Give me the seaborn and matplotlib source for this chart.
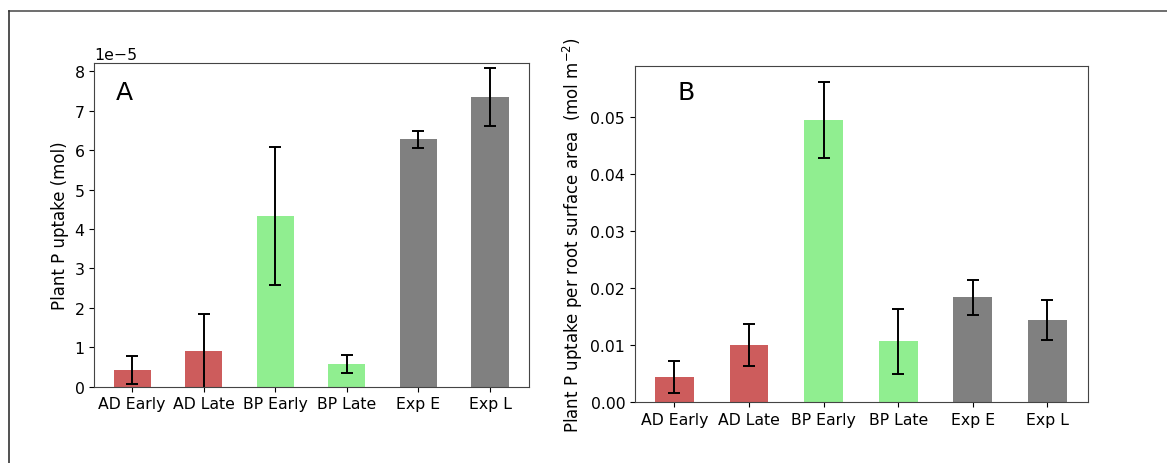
import numpy as np
import pandas as pd
import matplotlib
matplotlib.use("Agg")
import matplotlib.pyplot as plt
from matplotlib.lines import Line2D
import seaborn as sns

# Data
treatments = ["AD Early", "AD Late", "BP Early", "BP Late", "Exp E", "Exp L"]
groups = ["AD", "AD", "BP", "BP", "Exp", "Exp"]
uptake = [0.43e-5, 0.91e-5, 4.34e-5, 0.58e-5, 6.27e-5, 7.34e-5]
uptake_err = [0.36e-5, 0.93e-5, 1.75e-5, 0.23e-5, 0.22e-5, 0.74e-5]
uptake_area = [0.0045, 0.0101, 0.0495, 0.0107, 0.0184, 0.0144]
uptake_area_err = [0.0028, 0.0037, 0.0067, 0.0057, 0.0031, 0.0035]

palette = {"AD": "indianred", "BP": "lightgreen", "Exp": "grey"}

df = pd.DataFrame({"Treatment": treatments, "Group": groups,
                   "Uptake": uptake, "UptakeArea": uptake_area})

plt.rcParams["font.size"] = 11.3

fig = plt.figure(figsize=(11.67, 4.64), dpi=100)
axA = fig.add_axes([0.0808, 0.1644, 0.3722, 0.697])
axB = fig.add_axes([0.5441, 0.1308, 0.3879, 0.7254])

def draw(ax, col, err, label, panel, px, py):
    sns.barplot(data=df, x="Treatment", y=col, hue="Group", palette=palette,
                order=treatments, dodge=False, width=0.52, errorbar=None,
                saturation=1, legend=False, ax=ax)
    ax.errorbar(np.arange(len(treatments)), df[col], yerr=err, fmt="none",
                ecolor="black", elinewidth=1.4, capsize=4.5, capthick=1.4)
    ax.set_xlim(-0.53, 5.54)
    ax.set_xlabel("")
    ax.set_ylabel(label, fontsize=12)
    ax.tick_params(labelsize=11.3)
    for s in ax.spines.values():
        s.set_color("#444444")
    ax.text(px, py, panel, transform=ax.transAxes, fontsize=18, va="center")

draw(axA, "Uptake", uptake_err, "Plant P uptake (mol)", "A", 0.05, 0.912)
axA.set_ylim(0, 8.2e-5)
axA.yaxis.get_offset_text().set_fontsize(11.3)

draw(axB, "UptakeArea", uptake_area_err,
     "Plant P uptake per root surface area  (mol m$^{-2}$)", "B", 0.094, 0.923)
axB.set_ylim(0, 0.059)
axB.set_yticks([0, 0.01, 0.02, 0.03, 0.04, 0.05])
axB.set_yticklabels(["0.00", "0.01", "0.02", "0.03", "0.04", "0.05"])

# outer frame lines (top and left)
fig.add_artist(Line2D([0.0077, 1.0], [0.974, 0.974], color="#555555", lw=1.2))
fig.add_artist(Line2D([0.0077, 0.0077], [0.0, 0.974], color="#333333", lw=1.2))

fig.savefig("out.png", dpi=100)
